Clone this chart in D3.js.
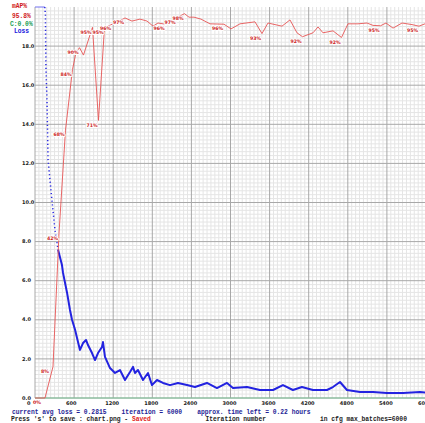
<!DOCTYPE html>
<html>
<head>
<meta charset="utf-8">
<script src="https://cdn.jsdelivr.net/npm/d3@7/dist/d3.min.js"></script>
<style>
    body { margin: 0; background: #fff; }
    svg { display: block; }
    text { white-space: pre; }
    .mono { font-family: "Liberation Mono", "DejaVu Sans Mono", monospace; font-weight: bold; font-size: 6.3px; }
    .small { font-family: "DejaVu Sans", sans-serif; font-weight: bold; font-size: 5px; }
    .tag { font-family: "DejaVu Sans", sans-serif; font-weight: bold; font-size: 4.7px; }
</style>
</head>
<body>
<svg id="chart" width="425" height="423"></svg>
<script>
'use strict';

const maxBatches = 6000;
const maxLoss = 20;
const gridLines = 100;

// avg loss (values above maxLoss are clipped to the top)
const lossIter = [0, 150, 160, 168, 184, 200, 260, 307, 353, 414, 430, 491, 537, 568, 614, 645, 690, 737, 783, 813,
    875, 921, 967, 1028, 1043, 1074, 1151, 1228, 1304, 1381, 1458, 1504, 1534, 1580, 1657, 1734, 1795, 1872, 1964,
    2071, 2194, 2332, 2455, 2639, 2792, 2946, 3038, 3253, 3452, 3652, 3805, 3958, 4096, 4265, 4480, 4572, 4680,
    4787, 4987, 5186, 5401, 5647, 5907, 6000];
const lossVal = [21, 21, 19.6, 16.9, 15.2, 12.2, 10.1, 8.6, 7.6, 6.8, 6.4, 5.4, 4.5, 4.0, 3.5, 3.07, 2.46, 2.81, 2.97, 2.71,
    2.30, 1.94, 2.30, 2.61, 2.86, 2.10, 1.53, 1.28, 1.43, 0.92, 1.33, 1.59, 1.28, 1.43, 0.92, 1.28, 0.66, 0.92, 0.77,
    0.66, 0.77, 0.66, 0.56, 0.77, 0.51, 0.77, 0.51, 0.56, 0.41, 0.41, 0.66, 0.41, 0.56, 0.41, 0.41, 0.56, 0.82,
    0.41, 0.31, 0.31, 0.26, 0.26, 0.31, 0.28];
const sparseUntil = 353;

// mAP (%) checkpoints and the labels printed next to them
const mapIter = [0, 153, 276, 368, 468, 575, 629, 683, 744, 882, 974, 1066, 1182, 1274, 1381, 1488, 1611, 1719, 1811,
    1887, 2003, 2171, 2294, 2363, 2440, 2547, 2685, 2900, 3008, 3146, 3376, 3483, 3575, 3790, 3913, 4020, 4105,
    4266, 4343, 4419, 4573, 4703, 4803, 4956, 5095, 5187, 5302, 5386, 5494, 5632, 5785, 5892, 6000];
const mapVal = [0, 0, 8, 42, 68.5, 84, 88.3, 89.6, 87.7, 94.8, 71, 94.6, 95.6, 96.2, 97.2, 96.4, 96.9, 96.4, 95.1,
    95.9, 95.6, 97.2, 98.3, 97.4, 97.4, 96.9, 95.7, 95.6, 94.4, 95.7, 96.2, 93.2, 95.9, 95.1, 96.7, 93.4, 92.4,
    93.4, 94.9, 93.4, 93.9, 92.2, 95.7, 95.7, 95.9, 95.3, 95.2, 95.9, 94.6, 95.9, 95.5, 95.1, 95.8];
const mapLabel = ['', '0%', '8%', '42%', '68%', '84%', '', '90%', '', '95%', '71%', '95%', '96%', '', '97%', '', '', '', '',
    '', '96%', '97%', '98%', '', '', '', '', '96%', '', '', '', '93%', '', '', '', '', '92%',
    '', '', '', '', '92%', '', '', '', '', '95%', '', '', '', '', '95%', ''];

// contrastive accuracy stays at 0 the whole run
const contrastIter = [0, 6000];
const contrastVal = [0, 0];

const xTicks = [0, 600, 1200, 1800, 2400, 3000, 3600, 4200, 4800, 5400, 6000];
const yTicks = [0, 2, 4, 6, 8, 10, 12, 14, 16, 18];

const legend = [
    { text: 'mAP%', color: '#d01a1a', x: 12, y: 8 },
    { text: '95.8%', color: '#d01a1a', x: 12, y: 17.5 },
    { text: 'C:0.0%', color: '#1b9e55', x: 10, y: 26 },
    { text: 'Loss', color: '#2020dd', x: 14, y: 32.5 }
];

const x = d3.scaleLinear().domain([0, maxBatches]).range([35, 426]);
const y = d3.scaleLinear().domain([0, maxLoss]).range([398, 7]);
const yMap = d3.scaleLinear().domain([0, 100]).range([398, 7]);

const svg = d3.select('#chart');

// grid: 100 light lines each way, every 10th darker
const vLines = d3.range(0, gridLines + 1).map(i => ({ v: maxBatches * i / gridLines, major: i % 10 === 0 }));
const hLines = d3.range(1, gridLines + 1).map(i => ({ v: maxLoss * (gridLines - i) / gridLines, major: i % 10 === 0 }));

const grid = svg.append('g');
[false, true].forEach(major => {
    grid.selectAll(null)
        .data(vLines.filter(d => d.major === major))
        .enter().append('line')
        .attr('x1', d => x(d.v)).attr('x2', d => x(d.v))
        .attr('y1', y(maxLoss)).attr('y2', y(0))
        .attr('stroke', major ? '#a8a8a8' : '#e5e5e5')
        .attr('stroke-width', 1);
    grid.selectAll(null)
        .data(hLines.filter(d => d.major === major))
        .enter().append('line')
        .attr('x1', x(0)).attr('x2', x(maxBatches))
        .attr('y1', d => y(d.v)).attr('y2', d => y(d.v))
        .attr('stroke', major ? '#a8a8a8' : '#e5e5e5')
        .attr('stroke-width', 1);
});

// tick labels
svg.append('g').selectAll('text')
    .data(yTicks)
    .enter().append('text')
    .attr('class', 'small')
    .attr('x', 22)
    .attr('y', d => y(d) + 1.6)
    .attr('fill', '#1a1a1a')
    .text(d3.format('.1f'));

svg.append('g').selectAll('text')
    .data(xTicks)
    .enter().append('text')
    .attr('class', 'small')
    .attr('x', d => x(d) - 8)
    .attr('y', 405)
    .attr('fill', '#1a1a1a')
    .text(d => d);

// contrastive accuracy line at the bottom
svg.append('path')
    .datum(d3.zip(contrastIter, contrastVal))
    .attr('fill', 'none')
    .attr('stroke', '#7cc497')
    .attr('stroke-width', 1)
    .attr('d', d3.line().x(d => x(d[0])).y(d => yMap(d[1])));

// loss
const lossPts = d3.zip(lossIter, lossVal);
const lossLine = d3.line()
    .x(d => x(d[0]))
    .y(d => y(Math.min(d[1], maxLoss)));

svg.append('path')
    .datum(lossPts.filter(d => d[1] >= maxLoss))
    .attr('fill', 'none')
    .attr('stroke', '#7070f0')
    .attr('stroke-width', 1)
    .attr('d', lossLine);

svg.append('path')
    .datum(lossPts.filter(d => d[0] >= lossIter[1] && d[0] <= sparseUntil))
    .attr('fill', 'none')
    .attr('stroke', '#2a2ae0')
    .attr('stroke-width', 1.5)
    .attr('stroke-dasharray', '1.2 2.6')
    .attr('d', lossLine);

svg.append('path')
    .datum(lossPts.filter(d => d[0] >= sparseUntil))
    .attr('fill', 'none')
    .attr('stroke', '#2323e0')
    .attr('stroke-width', 2)
    .attr('stroke-linejoin', 'round')
    .attr('d', lossLine);

// mAP
const mapPts = d3.zip(mapIter, mapVal, mapLabel);
svg.append('path')
    .datum(mapPts)
    .attr('fill', 'none')
    .attr('stroke', '#e65555')
    .attr('stroke-width', 0.9)
    .attr('d', d3.line().x(d => x(d[0])).y(d => yMap(d[1])));

svg.append('g').selectAll('text')
    .data(mapPts.filter(d => d[2] !== ''))
    .enter().append('text')
    .attr('class', 'tag')
    .attr('x', d => x(d[0]) - 12)
    .attr('y', d => yMap(d[1]) + 6.2)
    .attr('fill', '#cc1d1d')
    .attr('stroke', '#fff')
    .attr('stroke-width', 2)
    .attr('stroke-linejoin', 'round')
    .attr('paint-order', 'stroke')
    .text(d => d[2]);

// legend, top left
svg.append('g').selectAll('text')
    .data(legend)
    .enter().append('text')
    .attr('class', 'mono')
    .attr('x', d => d.x)
    .attr('y', d => d.y)
    .attr('fill', d => d.color)
    .text(d => d.text);

// status lines under the chart
svg.append('text')
    .attr('class', 'mono')
    .attr('x', 12).attr('y', 413.5)
    .attr('fill', '#1e1e96')
    .text('current avg loss = 0.2815    iteration = 6000    approx. time left = 0.22 hours');

const press = svg.append('text')
    .attr('class', 'mono')
    .attr('x', 11).attr('y', 420.5)
    .attr('fill', '#222');
press.append('tspan').text("Press 's' to save : chart.png - ");
press.append('tspan').attr('fill', '#e02020').text('Saved');

svg.append('text')
    .attr('class', 'mono')
    .attr('x', 205.5).attr('y', 420.5)
    .attr('fill', '#222')
    .text('Iteration number');

svg.append('text')
    .attr('class', 'mono')
    .attr('x', 320).attr('y', 420.5)
    .attr('fill', '#222')
    .text(`in cfg max_batches=${maxBatches}`);
</script>
</body>
</html>
